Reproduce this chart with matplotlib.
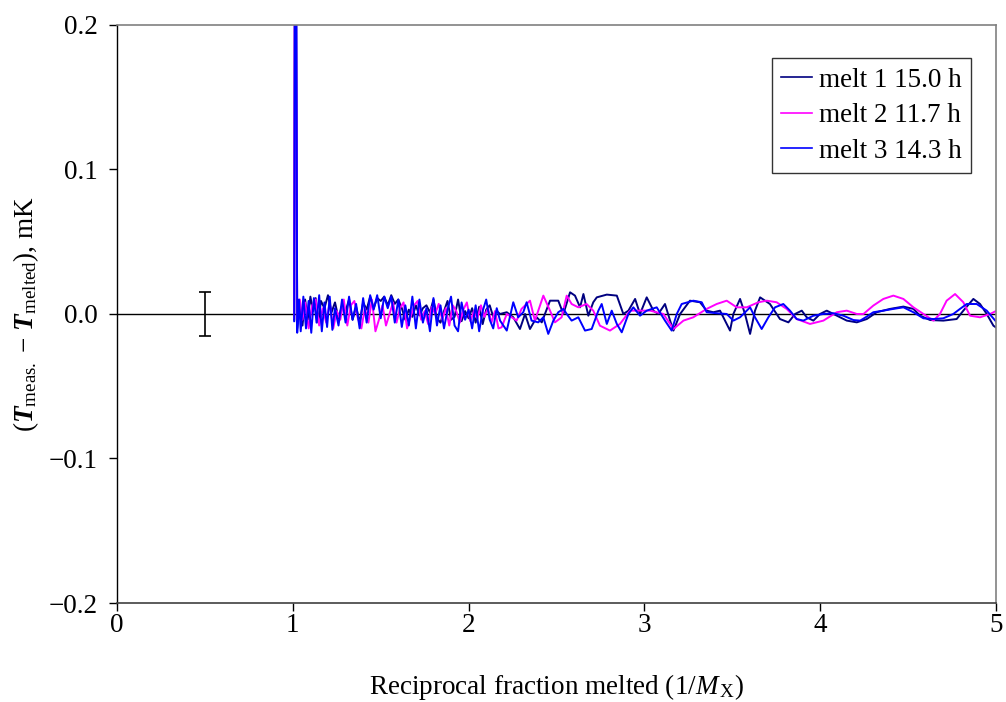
import matplotlib
matplotlib.use("Agg")
import matplotlib.pyplot as plt

plt.rcParams['font.family'] = ['Liberation Serif', 'DejaVu Serif']
plt.rcParams['mathtext.fontset'] = 'custom'
plt.rcParams['mathtext.rm'] = 'Liberation Serif'
plt.rcParams['mathtext.it'] = 'Liberation Serif:italic'
plt.rcParams['mathtext.bf'] = 'Liberation Serif:bold'
plt.rcParams['mathtext.bfit'] = 'Liberation Serif:bold:italic'
plt.rcParams['axes.unicode_minus'] = True

# ---------------- data ----------------
labels = ["melt 1 15.0 h", "melt 2 11.7 h", "melt 3 14.3 h"]
colors = ["#000080", "#FF00FF", "#0000FF"]

x_melt1 = [1.008, 1.014, 1.025, 1.04, 1.055, 1.07, 1.085, 1.10, 1.115, 1.13, 1.145, 1.16, 1.18, 1.20, 1.22,
           1.24, 1.26, 1.28, 1.30, 1.32, 1.34, 1.36, 1.38, 1.40, 1.42, 1.44, 1.46, 1.48, 1.50, 1.52,
           1.54, 1.56, 1.58, 1.60, 1.62, 1.64, 1.66, 1.68, 1.70, 1.72, 1.74, 1.76, 1.78, 1.80, 1.82,
           1.84, 1.86, 1.88, 1.90, 1.92, 1.94, 1.96, 1.98, 2.00, 2.02, 2.04, 2.06, 2.08, 2.10, 2.12,
           2.14, 2.16, 2.179, 2.217, 2.254, 2.292, 2.321, 2.349, 2.387, 2.416, 2.463, 2.510, 2.539,
           2.577, 2.605, 2.634, 2.653, 2.681, 2.709, 2.729, 2.786, 2.843, 2.880, 2.909, 2.947, 2.975,
           3.013, 3.051, 3.079, 3.117, 3.146, 3.165, 3.203, 3.259, 3.316, 3.354, 3.392, 3.430, 3.487,
           3.506, 3.544, 3.572, 3.601, 3.629, 3.658, 3.714, 3.771, 3.819, 3.857, 3.895, 3.923, 3.961,
           3.999, 4.037, 4.075, 4.113, 4.151, 4.208, 4.265, 4.321, 4.397, 4.473, 4.530, 4.568, 4.625,
           4.700, 4.776, 4.814, 4.871, 4.909, 4.947, 4.985, 5.004]
y_melt1 = [-0.004, 0.42, -0.010, 0.006, -0.008, 0.010, -0.004, 0.012, 0.002, 0.011, -0.006, 0.009, 0.004,
           0.013, 0.001, 0.008, -0.003, 0.006, 0.002, 0.010, -0.004, 0.005, -0.006, 0.008, 0.003, 0.012,
           0.004, 0.011, 0.009, 0.012, 0.006, 0.013, 0.007, 0.010, 0.004, -0.004, 0.003, -0.002, 0.006,
           -0.001, 0.004, 0.006, 0.001, 0.010, -0.003, -0.006, 0.002, 0.009, -0.004, -0.002, 0.010,
           -0.005, 0.002, -0.003, 0.004, -0.006, 0.005, -0.007, 0.003, 0.006, -0.002, 0.002, 0.0,
           0.0012, -0.0023, -0.0104, 0.0, -0.0104, -0.0023, -0.0058, 0.0092, 0.0092, 0.0, 0.015,
           0.0127, 0.0046, 0.0138, -0.0012, 0.0081, 0.0115, 0.0134, 0.0127, 0.0, 0.0023, 0.0104, 0.0,
           0.0115, 0.0023, 0.0, 0.0069, -0.0046, -0.0115, 0.0, 0.0092, 0.0081, 0.0023, 0.0012, 0.0023,
           -0.0115, 0.0, 0.0104, 0.0, -0.0138, 0.0023, 0.0115, 0.0069, -0.0035, -0.0058, 0.0, 0.0023,
           -0.0023, -0.0046, 0.0, 0.0023, 0.0, -0.0023, -0.0046, -0.0058, -0.0035, 0.0012, 0.0035,
           0.0051, 0.0035, -0.0012, -0.0042, -0.0046, -0.0035, 0.0023, 0.0104, 0.0069, 0.0, -0.0081,
           -0.0097]

x_melt2 = [1.008, 1.013, 1.025, 1.04, 1.055, 1.07, 1.09, 1.11, 1.13, 1.15, 1.17, 1.19, 1.21, 1.23, 1.25,
           1.27, 1.29, 1.31, 1.33, 1.35, 1.37, 1.39, 1.41, 1.43, 1.45, 1.47, 1.49, 1.51, 1.53, 1.55,
           1.57, 1.59, 1.61, 1.63, 1.65, 1.67, 1.69, 1.71, 1.73, 1.75, 1.77, 1.79, 1.81, 1.83, 1.85,
           1.87, 1.89, 1.91, 1.93, 1.95, 1.97, 1.99, 2.01, 2.03, 2.05, 2.07, 2.09, 2.11, 2.13, 2.15,
           2.17, 2.188, 2.217, 2.245, 2.273, 2.301, 2.349, 2.377, 2.406, 2.425, 2.463, 2.491, 2.529,
           2.558, 2.586, 2.624, 2.671, 2.709, 2.747, 2.804, 2.861, 2.918, 2.975, 3.032, 3.108, 3.165,
           3.222, 3.278, 3.354, 3.411, 3.468, 3.525, 3.582, 3.648, 3.696, 3.752, 3.809, 3.866, 3.942,
           4.018, 4.094, 4.151, 4.208, 4.246, 4.302, 4.359, 4.416, 4.473, 4.530, 4.587, 4.644, 4.681,
           4.719, 4.767, 4.814, 4.852, 4.909, 4.966, 5.004]
y_melt2 = [-0.003, 0.40, -0.006, 0.010, -0.004, 0.008, -0.010, 0.006, 0.010, -0.008, 0.004, -0.006, 0.008,
           -0.010, 0.002, -0.004, 0.010, -0.008, 0.006, 0.009, -0.003, -0.010, 0.004, -0.006, 0.010,
           -0.012, -0.004, 0.006, -0.008, 0.000, 0.008, -0.006, 0.004, 0.008, -0.010, -0.002, 0.006,
           0.009, -0.004, 0.002, -0.007, 0.005, 0.000, 0.007, -0.004, 0.004, -0.008, 0.006, 0.002,
           -0.006, 0.003, 0.008, -0.005, 0.002, -0.003, 0.006, -0.002, 0.004, -0.006, 0.002, -0.010,
           -0.0092, 0.0, -0.0023, -0.0046, 0.0035, 0.0092, -0.0046, 0.0058, 0.0127, 0.0023, -0.0058,
           -0.0023, 0.0127, 0.0069, 0.0046, 0.0069, 0.0023, -0.0081, -0.0115, -0.0069, 0.0023, 0.0023,
           0.0023, 0.0, -0.0104, -0.0046, -0.0023, 0.0035, 0.0069, 0.0092, 0.0046, 0.0046, 0.0081,
           0.0092, 0.0081, 0.0035, -0.0035, -0.0069, -0.0046, 0.0012, 0.0023, 0.0, 0.0, 0.0058, 0.0104,
           0.0127, 0.0104, 0.0046, 0.0, -0.0046, 0.0, 0.0092, 0.0138, 0.0081, -0.0012, -0.0023, 0.0,
           0.0023]

x_melt3 = [1.008, 1.015, 1.025, 1.035, 1.045, 1.06, 1.075, 1.09, 1.105, 1.12, 1.135, 1.15, 1.165, 1.18,
           1.195, 1.21, 1.225, 1.24, 1.26, 1.28, 1.30, 1.32, 1.34, 1.36, 1.38, 1.40, 1.42, 1.44, 1.46,
           1.48, 1.50, 1.52, 1.54, 1.56, 1.58, 1.60, 1.62, 1.64, 1.66, 1.68, 1.70, 1.72, 1.74, 1.76,
           1.78, 1.80, 1.82, 1.84, 1.86, 1.88, 1.90, 1.92, 1.94, 1.96, 1.98, 2.00, 2.02, 2.04, 2.06,
           2.08, 2.10, 2.12, 2.14, 2.16, 2.179, 2.217, 2.254, 2.282, 2.311, 2.330, 2.358, 2.396, 2.425,
           2.453, 2.482, 2.510, 2.539, 2.558, 2.586, 2.624, 2.662, 2.700, 2.738, 2.757, 2.786, 2.814,
           2.843, 2.871, 2.909, 2.937, 2.975, 3.013, 3.070, 3.117, 3.155, 3.184, 3.212, 3.278, 3.326,
           3.354, 3.411, 3.468, 3.506, 3.544, 3.601, 3.629, 3.667, 3.705, 3.743, 3.790, 3.828, 3.866,
           3.904, 3.961, 4.018, 4.075, 4.132, 4.189, 4.227, 4.265, 4.302, 4.359, 4.416, 4.473, 4.530,
           4.587, 4.644, 4.700, 4.757, 4.795, 4.833, 4.890, 4.947, 5.004]
y_melt3 = [-0.005, 0.45, -0.013, 0.010, -0.012, 0.012, -0.010, 0.009, -0.013, 0.011, -0.006, 0.013, -0.012,
           0.008, -0.009, 0.012, -0.011, 0.004, -0.008, 0.010, -0.006, 0.012, -0.004, 0.007, -0.010,
           0.011, -0.006, 0.013, 0.003, 0.013, -0.003, 0.012, 0.004, 0.012, -0.006, 0.010, -0.009,
           0.006, -0.008, 0.012, -0.010, 0.010, -0.006, 0.004, -0.012, 0.011, -0.008, 0.006, -0.010,
           0.003, 0.012, -0.008, -0.012, 0.008, -0.004, 0.003, -0.010, 0.006, -0.012, 0.002, 0.010,
           -0.004, -0.010, 0.004, -0.0046, -0.0115, 0.0081, -0.0023, 0.0012, 0.0081, -0.0046, -0.0058,
           -0.0023, -0.0138, -0.0046, 0.0012, 0.0035, 0.0, -0.0046, -0.0023, -0.0115, -0.0104, 0.0023,
           0.0069, -0.0069, 0.0023, -0.0069, -0.0127, 0.0, 0.0046, -0.0012, 0.0023, 0.0046, -0.0046,
           -0.0115, 0.0, 0.0069, 0.0092, 0.0081, 0.0012, 0.0005, 0.0, -0.0046, -0.0023, 0.0046,
           -0.0023, -0.0104, -0.0023, 0.0046, 0.0069, 0.0023, -0.0035, -0.0046, -0.0012, 0.0, 0.0005,
           -0.0012, -0.0042, -0.0046, -0.0018, 0.0012, 0.0023, 0.0035, 0.0046, 0.0012, -0.0030, -0.0035,
           -0.0030, 0.0, 0.0035, 0.0069, 0.0069, 0.0023, -0.0058]

err_x = [0.5]
err_y = [0.0]
err_size = [0.015]

x_ticks = [0, 1, 2, 3, 4, 5]
y_ticks = [-0.2, -0.1, 0.0, 0.1, 0.2]

FS = 19.5

# ---------------- plot ----------------
fig = plt.figure(figsize=(10.06, 7.02), dpi=100)
ax = fig.add_axes([0.1163, 0.141, 0.8738, 0.8235])

ax.axhline(0, color='black', lw=1.0, zorder=1)
series = [(x_melt1, y_melt1), (x_melt2, y_melt2), (x_melt3, y_melt3)]
for (xs, ys), lab, c in zip(series, labels, colors):
    ax.plot(xs, ys, color=c, lw=1.4, label=lab, zorder=2, solid_joinstyle='round')

ax.errorbar(err_x, err_y, yerr=err_size, fmt='none', ecolor='black', elinewidth=1.2,
            capsize=4.5, capthick=1.2, zorder=3)

ax.set_xlim(0, 5)
ax.set_ylim(-0.2, 0.2)
ax.set_xticks(x_ticks)
ax.set_yticks(y_ticks)
ax.set_xticklabels([str(t) for t in x_ticks])
ax.set_yticklabels([("\u22120.%d" % round(abs(t) * 10)) if t < 0 else "%.1f" % t for t in y_ticks])
ax.tick_params(axis='both', direction='out', length=6, width=1.0, labelsize=FS, colors='black')
ax.tick_params(axis='x', pad=1)
ax.tick_params(axis='y', pad=8)

for s in ['top', 'right']:
    ax.spines[s].set_color('#808080')
    ax.spines[s].set_linewidth(1.2)
ax.spines['left'].set_color('black')
ax.spines['bottom'].set_color('#404040')
ax.spines['left'].set_linewidth(1.0)
ax.spines['bottom'].set_linewidth(1.2)

ax.set_xlabel(r"Reciprocal fraction melted (1/$\mathit{M}_{\,\mathrm{X}}$)", fontsize=FS, labelpad=25)
ax.set_ylabel(r"($\mathbfit{T}_{\mathrm{meas.}}$ $-$ $\mathbfit{T}_{\mathrm{melted}}$), mK", fontsize=FS, labelpad=5)

leg = ax.legend(loc='upper right', bbox_to_anchor=(0.972, 0.942), fontsize=FS, frameon=True,
                fancybox=False, edgecolor='black', handlelength=1.15, handletextpad=0.25,
                borderpad=0.35, labelspacing=0.38, borderaxespad=0)
leg.get_frame().set_linewidth(1.0)
for line in leg.get_lines():
    line.set_linewidth(1.2)

fig.savefig("out.png", dpi=100, facecolor='white')
